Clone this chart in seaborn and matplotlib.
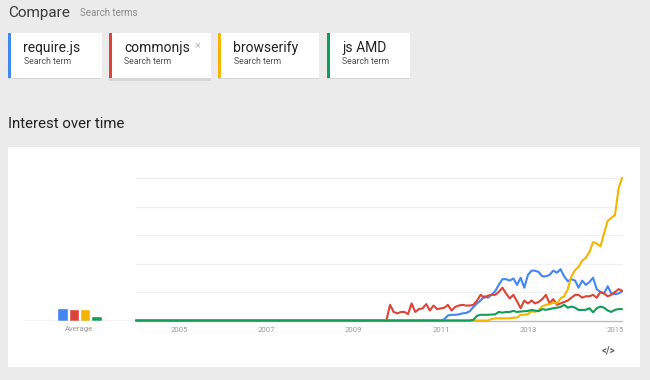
import matplotlib
matplotlib.use("Agg")
import matplotlib.pyplot as plt
from matplotlib.patches import Rectangle
import numpy as np
import pandas as pd
import seaborn as sns

# ---------------- data ----------------
terms = ["require.js", "commonjs", "browserify", "js AMD"]
colors = ["#4285f4", "#db4437", "#f4b400", "#0f9d58"]
averages = [9, 8, 8, 3]
year_ticks = [2005, 2007, 2009, 2011, 2013, 2015]
n_months = 135  # Jan 2004 .. Mar 2015

require_js = [0] * 84 + [
    0, 1, 3.5, 4, 4, 4.3, 5, 5.3, 6.5, 9.5, 12, 14, 17, 16, 18, 20.5,
    25, 29, 29, 28, 29.5, 25, 30, 23, 32, 35, 35, 34, 31, 31, 32, 35,
    33.5, 36, 31, 27.5, 29, 28, 23, 28, 25, 27, 30, 22, 20, 19, 24, 19,
    18.5, 19, 20.5]
commonjs = [0] * 69 + [
    0, 11, 6, 5, 6, 6, 4.5, 12, 6, 8, 8.5, 11.5, 7, 10.5, 8, 8.5, 9, 11,
    7, 9.5, 10.5, 11, 10.5, 10.5, 11, 14, 18, 16, 17.5, 18, 18, 20, 23,
    19, 15.5, 18, 13.5, 8.6, 14, 12, 14, 12, 13, 15, 18, 12, 15, 11, 12,
    13, 14, 16, 18, 18, 16, 17, 17, 18, 16, 20, 19, 17, 18, 20, 22, 21]
browserify = [0] * 97 + [
    0, 1, 1.5, 1.5, 1.5, 1.5, 1.5, 2, 2, 4, 4, 4.5, 6.5, 6, 7.4, 10, 11,
    11.5, 12.5, 12, 15.5, 17, 22, 31, 35.5, 37.5, 42, 44, 48, 55, 54, 52,
    61, 70, 72, 74, 93, 100]
js_amd = [0] * 92 + [
    0, 0.5, 3.3, 4, 4, 4, 4.2, 4.3, 6, 5.5, 6, 6, 6.7, 6, 6.3, 6.5, 6.7,
    7.4, 7, 6.5, 8, 7.5, 8, 8.6, 9, 9.5, 11, 9, 9.8, 9, 7.4, 7.4, 7.5,
    8.6, 5.7, 8.6, 9.8, 9, 7, 6, 7.5, 8, 8]
series = [require_js, commonjs, browserify, js_amd]

months = pd.date_range("2004-01-01", periods=n_months, freq="MS")
df = pd.concat(
    [pd.DataFrame({"month": months, "value": s, "term": t})
     for t, s in zip(terms, series)],
    ignore_index=True)
avg_df = pd.DataFrame({"term": terms, "avg": averages})

# ---------------- figure ----------------
sns.set_style("white")
plt.rcParams["font.family"] = ["Roboto", "DejaVu Sans"]

W, H = 650, 380
fig = plt.figure(figsize=(6.5, 3.8), dpi=100)
fig.patch.set_facecolor("#ebebeb")

def frac(x0, y0, x1, y1):
    return [x0 / W, 1 - y1 / H, (x1 - x0) / W, (y1 - y0) / H]

# background / decoration axes in pixel coordinates
bg = fig.add_axes([0, 0, 1, 1], zorder=0)
bg.set_xlim(0, W)
bg.set_ylim(H, 0)
bg.axis("off")

bg.text(8, 12.5, "Compare", fontsize=11, color="#3a3a3a", va="center",
        ha="left")
bg.text(79.5, 13.5, "Search terms", fontsize=7, color="#8a8a8a",
        va="center", ha="left")

cards = [(8, 101.5), (109, 211), (218, 319), (327, 409.5)]
for i, ((x0, x1), t, c) in enumerate(zip(cards, terms, colors)):
    sh = 2.5 if i == 1 else 1.2
    bg.add_patch(Rectangle((x0 - 0.4, 32.6), x1 - x0 + 0.8, 45.4 + sh,
                           facecolor="#d6d6d6", edgecolor="none", zorder=1))
    bg.add_patch(Rectangle((x0, 33), x1 - x0, 45, facecolor="white",
                           edgecolor="none", zorder=2))
    bg.add_patch(Rectangle((x0, 33), 2.5, 45, facecolor=c,
                           edgecolor="none", zorder=3))
    bg.text(x0 + 15.5, 48, t, fontsize=10, color="#222222",
            va="center", ha="left", zorder=4)
    bg.text(x0 + 15.5, 62, "Search term", fontsize=6.3, color="#555555",
            va="center", ha="left", zorder=4)
bg.text(198, 45.5, "\u00d7", fontsize=8, color="#bbbbbb", va="center",
        ha="center", zorder=4)

bg.text(8, 124, "Interest over time", fontsize=10.8, color="#222222",
        va="center", ha="left")

bg.add_patch(Rectangle((8, 147), 632, 220, facecolor="white",
                       edgecolor="none", zorder=1))
bg.text(609, 350, "</>", fontsize=7, color="#666666", va="center",
        ha="center", fontweight="bold", zorder=2)

# ---------------- average bars ----------------
base_y, top_y = 320.5, 178.0
ax_avg = fig.add_axes(frac(23.3, top_y, 135, base_y), zorder=1)
sns.barplot(data=avg_df, x="term", y="avg", hue="term", order=terms,
            hue_order=terms, palette=colors, legend=False, width=0.93,
            saturation=1, ax=ax_avg)
pitch = 11.27
ax_avg.set_xlim((23.3 - 62.5) / pitch, (135 - 62.5) / pitch)
ax_avg.set_ylim(0, 100)
ax_avg.axhline(0, color="#bdbdbd", lw=1.0)
ax_avg.axis("off")
ax_avg.text(1.5, -6.3, "Average", fontsize=5.6, color="#999999",
            ha="center", va="center")

# ---------------- main line chart ----------------
ax = fig.add_axes(frac(136, top_y, 622, base_y), zorder=1)
ax.patch.set_alpha(0)
for g in [20, 40, 60, 80, 100]:
    ax.axhline(g, color="#f0f0f0", lw=0.9, zorder=0)
ax.axhline(0, color="#bdbdbd", lw=1.0, zorder=0)
sns.lineplot(data=df, x="month", y="value", hue="term", hue_order=terms,
             palette=colors, legend=False, linewidth=1.5, ax=ax)
for ln in ax.get_lines():
    ln.set_clip_on(False)
ax.set_xlim(months[0], months[-1])
ax.set_ylim(0, 100)
ax.set_xticks([pd.Timestamp(f"{y}-01-01") for y in year_ticks])
ax.set_xticklabels([str(y) for y in year_ticks])
ax.tick_params(axis="x", length=0, labelsize=5.6, labelcolor="#999999",
               pad=4.5)
ax.set_yticks([])
ax.set_xlabel("")
ax.set_ylabel("")
for s in ax.spines.values():
    s.set_visible(False)

fig.savefig("out.png", dpi=100, facecolor=fig.get_facecolor())
